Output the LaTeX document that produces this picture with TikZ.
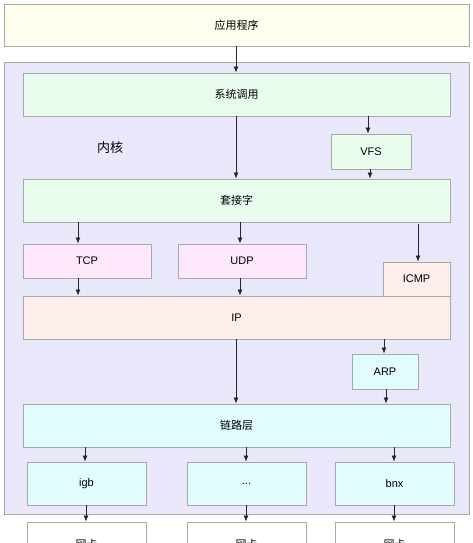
\documentclass[tikz,border=0pt]{standalone}
\usepackage{fontspec}
\setmainfont{Liberation Sans}
\newfontfamily\cjk{Noto Sans CJK SC}
\usetikzlibrary{arrows.meta}
\definecolor{bordergray}{HTML}{A8A8A8}
\definecolor{appfill}{HTML}{FFFFEE}
\definecolor{kernfill}{HTML}{E8E8FA}
\definecolor{greenfill}{HTML}{E8FCEE}
\definecolor{pinkfill}{HTML}{FCE8FA}
\definecolor{ipfill}{HTML}{FDEEEC}
\definecolor{cyanfill}{HTML}{E0FCFC}
\tikzset{
  box/.style={draw=bordergray, line width=0.9pt, inner sep=0pt, font=\fontsize{11}{13}\selectfont},
  arr/.style={-{Latex[length=6pt,width=5pt]}, line width=0.8pt, black!85},
}
\newcommand{\boxat}[7]{% name, x1, y1, x2, y2, fill, text
  \node[box, fill=#6, minimum width={(#4-#2)*1pt}, minimum height={(#5-#3)*1pt}] (#1) at ({(#2+#4)/2},{(#3+#5)/2}) {#7};}
\begin{document}
\begin{tikzpicture}[x=1pt,y=-1pt]
\useasboundingbox (0,0) rectangle (473,543);
\fill[white] (0,0) rectangle (473,543);
\boxat{app}{4}{4}{469}{46}{appfill}{\cjk 应用程序}
\boxat{kern}{4}{62}{469}{514}{kernfill}{}
\node[font=\cjk\fontsize{13}{15}\selectfont] (kl) at (110,148) {内核};
\boxat{sys}{23}{73}{450}{116}{greenfill}{\cjk 系统调用}
\boxat{vfs}{331}{134}{411}{169}{greenfill}{VFS}
\boxat{sock}{23}{179}{450}{222}{greenfill}{\cjk 套接字}
\boxat{tcp}{23}{244}{151}{278}{pinkfill}{TCP}
\boxat{udp}{178}{244}{306}{278}{pinkfill}{UDP}
\boxat{icmp}{383}{262}{450}{296}{ipfill}{ICMP}
\boxat{ip}{23}{296}{450}{339}{ipfill}{IP}
\boxat{arp}{352}{354}{418}{389}{cyanfill}{ARP}
\boxat{link}{23}{404}{450}{447}{cyanfill}{\cjk 链路层}
\boxat{igb}{27}{462}{146}{505}{cyanfill}{igb}
\boxat{dots}{187}{462}{306}{505}{cyanfill}{...}
\boxat{bnx}{335}{462}{454}{505}{cyanfill}{bnx}
\boxat{nic1}{27}{522}{146}{566}{white}{\cjk 网卡}
\boxat{nic2}{187}{522}{306}{566}{white}{\cjk 网卡}
\boxat{nic3}{335}{522}{454}{566}{white}{\cjk 网卡}
\coordinate (c236) at (236,0);
\draw[arr] (app.south -| c236) -- (sys.north -| c236);
\draw[arr] (sys.south -| c236) -- (sock.north -| c236);
\draw[arr] (sys.south -| 368,0) -- (vfs.north -| 368,0);
\draw[arr] (vfs.south -| 370,0) -- (sock.north -| 370,0);
\draw[arr] (sock.south -| 78,0) -- (tcp.north -| 78,0);
\draw[arr] (sock.south -| 240,0) -- (udp.north -| 240,0);
\draw[arr] ([yshift=-2]sock.south -| 418,0) -- (icmp.north -| 418,0);
\draw[arr] (tcp.south -| 78,0) -- (ip.north -| 78,0);
\draw[arr] (udp.south -| 240,0) -- (ip.north -| 240,0);
\draw[arr] (ip.south -| c236) -- (link.north -| c236);
\draw[arr] (ip.south -| 384,0) -- (arp.north -| 384,0);
\draw[arr] (arp.south -| 386,0) -- (link.north -| 386,0);
\draw[arr] (link.south -| 85,0) -- (igb.north -| 85,0);
\draw[arr] (link.south -| 246,0) -- (dots.north -| 246,0);
\draw[arr] (link.south -| 394,0) -- (bnx.north -| 394,0);
\draw[arr] (igb.south -| 86,0) -- (nic1.north -| 86,0);
\draw[arr] (dots.south -| 246,0) -- (nic2.north -| 246,0);
\draw[arr] (bnx.south -| 394,0) -- (nic3.north -| 394,0);
\end{tikzpicture}
\end{document}
